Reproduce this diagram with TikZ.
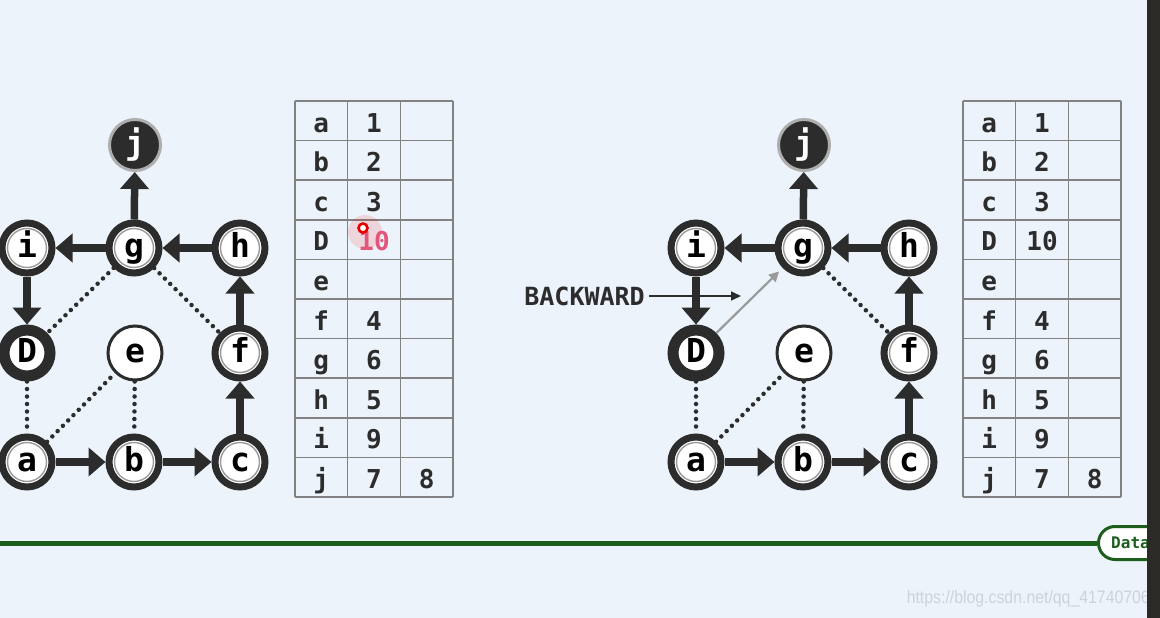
\documentclass[tikz,border=0pt]{standalone}
\usepackage{fontspec}
\setmainfont{DejaVu Sans}
\newfontfamily\monofont{DejaVu Sans Mono}
\newfontfamily\wmfont{Liberation Sans}
\usetikzlibrary{arrows.meta,shapes.misc}
\definecolor{bg}{HTML}{ECF3FB}
\definecolor{ink}{HTML}{2C2C2C}
\definecolor{ringgray}{HTML}{9A9A9A}
\definecolor{gridline}{HTML}{828282}
\definecolor{dgreen}{HTML}{1D5E1D}
\definecolor{darkbar}{HTML}{2B2A27}
\definecolor{pinkred}{HTML}{E4557C}
\definecolor{wmgray}{HTML}{CDD3DA}

\newcommand\drawtabgrid[1]{%
  \foreach \k in {0,...,10}
    \draw[tabline] (#1, 101+39.6*\k) -- (#1+158, 101+39.6*\k);
  \foreach \c in {0,1,2,3}
    \draw[tabline] (#1+52.7*\c, 101) -- (#1+52.7*\c, 497);
}

\begin{document}
\begin{tikzpicture}[x=1pt,y=-1pt,
  nodefont/.style={font=\monofont\bfseries\fontsize{33}{33}\selectfont,
    text height=21pt, text depth=3pt},
  vnode/.style={circle, minimum size=50pt, inner sep=0pt, line width=7pt,
    draw=ink, fill=white, text=black, nodefont,
    path picture={\draw[ringgray, line width=1.4pt]
      (path picture bounding box.center) circle (19.5pt);}},
  dnode/.style={circle, minimum size=46pt, inner sep=0pt, line width=11pt,
    draw=ink, fill=white, text=black, nodefont},
  enode/.style={circle, minimum size=54pt, inner sep=0pt, line width=3pt,
    draw=ink, fill=white, text=black, nodefont},
  jnode/.style={circle, minimum size=51pt, inner sep=0pt, line width=3pt,
    draw=ringgray!80, fill=ink, text=white, nodefont},
  thick arrow/.style={line width=7.5pt, draw=ink,
    -{Triangle[width=28pt,length=17pt]}},
  dots/.style={line width=4.5pt, draw=ink, dash pattern=on 0pt off 7.5pt,
    line cap=round},
  tabline/.style={draw=gridline, line width=1.5pt},
  celltext/.style={anchor=base, inner sep=0pt, text=ink,
    font=\monofont\bfseries\fontsize{26}{26}\selectfont},
]
% background
\fill[bg] (0,0) rectangle (1160,618);
\useasboundingbox (0,0) rectangle (1160,618);

% ---------------- left graph ----------------
\node[jnode] (Lj) at (135,145) {j};
\node[vnode] (Li) at (27,248) {i};
\node[vnode] (Lg) at (134,248) {g};
\node[vnode] (Lh) at (240,248) {h};
\node[dnode] (LD) at (27,353) {D};
\node[enode] (Le) at (135,353) {e};
\node[vnode] (Lf) at (240,353) {f};
\node[vnode] (La) at (27,462) {a};
\node[vnode] (Lb) at (134,462) {b};
\node[vnode] (Lc) at (240,462) {c};

\draw[thick arrow] (Lg) -- (Lj);
\draw[thick arrow] (Lg) -- (Li);
\draw[thick arrow] (Lh) -- (Lg);
\draw[thick arrow] (Li) -- (LD);
\draw[thick arrow] (Lf) -- (Lh);
\draw[thick arrow] (Lc) -- (Lf);
\draw[thick arrow] (La) -- (Lb);
\draw[thick arrow] (Lb) -- (Lc);
\draw[dots] (Lg) -- (LD);
\draw[dots] (Lg) -- (Lf);
\draw[dots] (LD) -- (La);
\draw[dots] (La) -- (Le);
\draw[dots] (Le) -- (Lb);

% ---------------- right graph ----------------
\node[jnode] (Rj) at (804,145) {j};
\node[vnode] (Ri) at (696,248) {i};
\node[vnode] (Rg) at (803,248) {g};
\node[vnode] (Rh) at (909,248) {h};
\node[dnode] (RD) at (696,353) {D};
\node[enode] (Re) at (804,353) {e};
\node[vnode] (Rf) at (909,353) {f};
\node[vnode] (Ra) at (696,462) {a};
\node[vnode] (Rb) at (803,462) {b};
\node[vnode] (Rc) at (909,462) {c};

\draw[thick arrow] (Rg) -- (Rj);
\draw[thick arrow] (Rg) -- (Ri);
\draw[thick arrow] (Rh) -- (Rg);
\draw[thick arrow] (Ri) -- (RD);
\draw[thick arrow] (Rf) -- (Rh);
\draw[thick arrow] (Rc) -- (Rf);
\draw[thick arrow] (Ra) -- (Rb);
\draw[thick arrow] (Rb) -- (Rc);
\draw[dots] (Rg) -- (Rf);
\draw[dots] (RD) -- (Ra);
\draw[dots] (Ra) -- (Re);
\draw[dots] (Re) -- (Rb);
\draw[draw=ringgray, line width=2.2pt, shorten >=5pt,
  -{Triangle[width=10pt,length=10pt]}] (RD) -- (Rg);

% BACKWARD label
\node[anchor=east, inner sep=0pt, text=ink,
  font=\monofont\bfseries\fontsize{25}{25}\selectfont] (bw) at (645,296) {BACKWARD};
\coordinate (bwend) at (741,296);
\draw[ink, line width=1.6pt, -{Triangle[width=9pt,length=10pt]}]
  ([xshift=4pt]bw.east) -- (bwend);

% ---------------- left table ----------------
\drawtabgrid{295}
\foreach \l [count=\r from 0] in {a,b,c,D,e,f,g,h,i,j}
  \node[celltext] (Lt\r) at (321.3, 132+39.6*\r) {\l};
\foreach \v [count=\r from 0] in {1,2,3}
  \node[celltext] (Lv\r) at (374, 132+39.6*\r) {\v};
\foreach \v/\r in {4/5,6/6,5/7,9/8,7/9}
  \node[celltext] (Lv\r) at (374, 132+39.6*\r) {\v};
\node[celltext] (Lw9) at (426.7, 132+39.6*9) {8};
% red highlighted 10
\fill[red, opacity=0.12] (365,232) circle (17pt);
\node[celltext, text=pinkred] (Lv3) at (374, 132+39.6*3) {10};
\draw[red!90!black, line width=2.6pt, fill=white] (363,228) circle (4.5pt);

% ---------------- right table ----------------
\drawtabgrid{963}
\foreach \l [count=\r from 0] in {a,b,c,D,e,f,g,h,i,j}
  \node[celltext] (Rt\r) at (989.3, 132+39.6*\r) {\l};
\foreach \v/\r in {1/0,2/1,3/2,10/3,4/5,6/6,5/7,9/8,7/9}
  \node[celltext] (Rv\r) at (1042, 132+39.6*\r) {\v};
\node[celltext] (Rw9) at (1094.7, 132+39.6*9) {8};

% ---------------- bottom green line and pill ----------------
\node[rounded rectangle, draw=dgreen, line width=3pt, fill=white,
  minimum height=33pt, minimum width=80pt, anchor=west, text=dgreen,
  font=\monofont\bfseries\fontsize{16}{16}\selectfont, inner xsep=8pt]
  (pill) at (1097,543) {Data\hspace{30pt}};
\coordinate (gl) at (0,543);
\draw[dgreen, line width=5pt] (gl) -- (pill.west);

% watermark
\node[anchor=east, inner sep=0pt, text=wmgray, xscale=0.88,
  font=\wmfont\fontsize{18}{18}\selectfont] (wm) at (1150,599)
  {https://blog.csdn.net/qq\_41740706};

% dark bar at the right edge
\fill[darkbar] (1147,0) rectangle (1160,618);
\end{tikzpicture}
\end{document}
